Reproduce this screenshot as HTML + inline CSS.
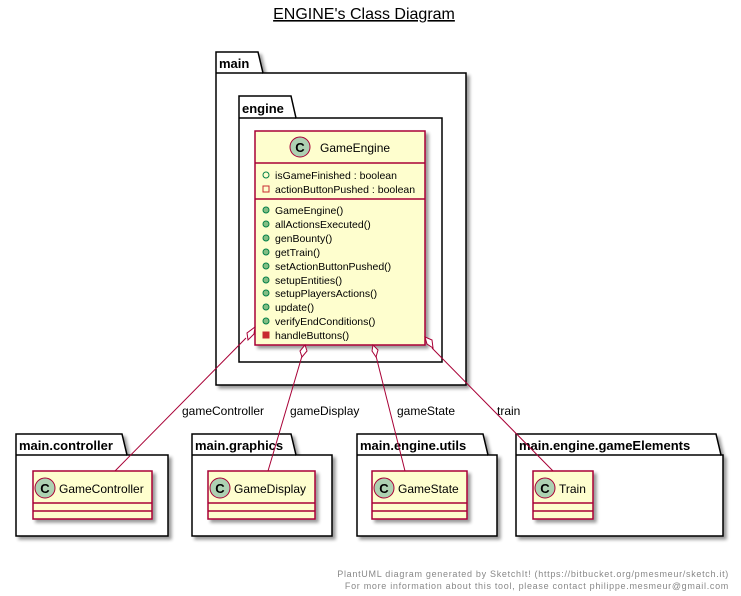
<!DOCTYPE html>
<html><head><meta charset="utf-8"><style>
html,body{margin:0;padding:0;background:#fff;}
svg{display:block;font-family:"Liberation Sans",sans-serif;}
</style></head><body>
<svg width="741" height="596" viewBox="0 0 741 596" xmlns="http://www.w3.org/2000/svg">
<defs>
<filter id="sh" x="-10%" y="-10%" width="130%" height="130%"><feGaussianBlur in="SourceAlpha" stdDeviation="1.5"/><feOffset dx="3" dy="3"/><feComponentTransfer><feFuncA type="linear" slope="0.4"/></feComponentTransfer><feMerge><feMergeNode/><feMergeNode in="SourceGraphic"/></feMerge></filter>
</defs>
<text x="364" y="19" font-size="16" text-anchor="middle" text-decoration="underline">ENGINE's Class Diagram</text>

<g fill="#fff" stroke="#000" stroke-width="1.5" filter="url(#sh)">
<polygon points="216,52 258,52 263,73 466,73 466,385 216,385"/>
<polygon points="239,96 291,96 296,118 442,118 442,362 239,362"/>
<polygon points="16,434 122,434 127,455 168,455 168,536 16,536"/>
<polygon points="192,434 291,434 296,455 332,455 332,536 192,536"/>
<polygon points="357,434 483,434 488,455 497,455 497,536 357,536"/>
<polygon points="516,434 716,434 721,455 723,455 723,536 516,536"/>
</g>
<g stroke="#000" stroke-width="1.5">
<line x1="216" y1="73" x2="263" y2="73"/>
<line x1="239" y1="118" x2="296" y2="118"/>
<line x1="16" y1="455" x2="127" y2="455"/>
<line x1="192" y1="455" x2="296" y2="455"/>
<line x1="357" y1="455" x2="488" y2="455"/>
<line x1="516" y1="455" x2="721" y2="455"/>
</g>
<g font-weight="bold" font-size="13">
<text x="219" y="68">main</text>
<text x="242" y="113">engine</text>
<text x="19" y="450">main.controller</text>
<text x="195" y="450">main.graphics</text>
<text x="360" y="450">main.engine.utils</text>
<text x="519" y="450">main.engine.gameElements</text>
</g>

<rect x="255" y="131" width="170" height="214" fill="#FEFECE" stroke="#A80036" stroke-width="1.5" filter="url(#sh)"/>
<line x1="255" y1="163" x2="425" y2="163" stroke="#A80036" stroke-width="1.5"/>
<line x1="255" y1="199" x2="425" y2="199" stroke="#A80036" stroke-width="1.5"/>
<circle cx="300" cy="147" r="10" fill="#ADD1B2" stroke="#A80036"/>
<text x="300" y="152" font-size="13" font-weight="bold" text-anchor="middle">C</text>
<text x="320" y="152" font-size="12">GameEngine</text>
<g font-size="10.5">
<circle cx="266" cy="175" r="3" fill="none" stroke="#038048"/>
<text x="275" y="179">isGameFinished : boolean</text>
<rect x="263" y="186" width="6" height="6" fill="none" stroke="#C82930"/>
<text x="275" y="193">actionButtonPushed : boolean</text>
<g fill="#84BE84" stroke="#038048">
<circle cx="266" cy="210" r="3"/><circle cx="266" cy="224" r="3"/><circle cx="266" cy="238" r="3"/><circle cx="266" cy="252" r="3"/><circle cx="266" cy="266" r="3"/><circle cx="266" cy="280" r="3"/><circle cx="266" cy="293" r="3"/><circle cx="266" cy="307" r="3"/><circle cx="266" cy="321" r="3"/>
</g>
<rect x="263" y="332" width="6" height="6" fill="#C82930" stroke="#C82930"/>
<text x="275" y="214">GameEngine()</text>
<text x="275" y="228">allActionsExecuted()</text>
<text x="275" y="242">genBounty()</text>
<text x="275" y="256">getTrain()</text>
<text x="275" y="270">setActionButtonPushed()</text>
<text x="275" y="284">setupEntities()</text>
<text x="275" y="297">setupPlayersActions()</text>
<text x="275" y="311">update()</text>
<text x="275" y="325">verifyEndConditions()</text>
<text x="275" y="339">handleButtons()</text>
</g>

<g fill="#FEFECE" stroke="#A80036" stroke-width="1.5" filter="url(#sh)">
<rect x="33" y="471" width="119" height="48"/>
<rect x="208" y="471" width="107" height="48"/>
<rect x="372" y="471" width="95" height="48"/>
<rect x="533" y="471" width="60" height="48"/>
</g>
<g stroke="#A80036" stroke-width="1.5">
<line x1="33" y1="503" x2="152" y2="503"/><line x1="33" y1="511" x2="152" y2="511"/>
<line x1="208" y1="503" x2="315" y2="503"/><line x1="208" y1="511" x2="315" y2="511"/>
<line x1="372" y1="503" x2="467" y2="503"/><line x1="372" y1="511" x2="467" y2="511"/>
<line x1="533" y1="503" x2="593" y2="503"/><line x1="533" y1="511" x2="593" y2="511"/>
</g>
<g fill="#ADD1B2" stroke="#A80036">
<circle cx="45" cy="488" r="10"/><circle cx="220" cy="488" r="10"/><circle cx="384" cy="488" r="10"/><circle cx="545" cy="488" r="10"/>
</g>
<g font-size="13" font-weight="bold" text-anchor="middle">
<text x="45" y="493">C</text><text x="220" y="493">C</text><text x="384" y="493">C</text><text x="545" y="493">C</text>
</g>
<g font-size="12">
<text x="59" y="493">GameController</text>
<text x="234" y="493">GameDisplay</text>
<text x="398" y="493">GameState</text>
<text x="559" y="493">Train</text>
</g>

<g stroke="#A80036" stroke-width="1" fill="#fff">
<line x1="246" y1="338" x2="115" y2="471"/>
<polygon points="255,327 254,334 248,340 247,333"/>
<line x1="302" y1="356" x2="268" y2="471"/>
<polygon points="305,345 307,351 302,357 300,351"/>
<line x1="376" y1="356" x2="405" y2="471"/>
<polygon points="373,345 378,350 376,357 372,351"/>
<line x1="432" y1="348" x2="553" y2="471"/>
<polygon points="425,337 432,340 433,348 427,344"/>
</g>
<g font-size="12">
<text x="182" y="415">gameController</text>
<text x="290" y="415">gameDisplay</text>
<text x="397" y="415">gameState</text>
<text x="497" y="415">train</text>
</g>

<g font-size="9" fill="#888" text-anchor="end" letter-spacing="0.7">
<text x="729" y="577">PlantUML diagram generated by SketchIt! (https://bitbucket.org/pmesmeur/sketch.it)</text>
<text x="729" y="589">For more information about this tool, please contact philippe.mesmeur@gmail.com</text>
</g>
</svg>
</body></html>
